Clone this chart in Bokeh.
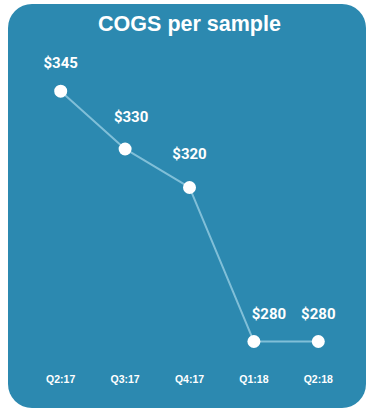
from bokeh.plotting import figure
from bokeh.models import FactorRange, Range1d, ColumnDataSource
from bokeh.core.properties import value
from bokeh.embed import file_html
from bokeh.resources import INLINE

quarters = ["Q2:17", "Q3:17", "Q4:17", "Q1:18", "Q2:18"]
cogs = [345, 330, 320, 280, 280]
labels = ["$345", "$330", "$320", "$280", "$280"]
label_dx = [0, 6, 0, 15, 0]
label_dy = [-28, -32, -33, -28, -28]

BG = "#2c89b0"

src = ColumnDataSource(dict(q=quarters, v=cogs, t=labels, dx=label_dx, dy=label_dy))

p = figure(width=358, height=404, x_range=FactorRange(*quarters),
           y_range=Range1d(274.03, 358.17),
           output_backend="svg", toolbar_location=None,
           min_border_left=20, min_border_right=16, min_border_top=0, min_border_bottom=44,
           background_fill_color=None, border_fill_color=None, outline_line_color=None,
           title="COGS per sample",
           styles={"border-radius": "24px", "overflow": "hidden",
                   "background-color": BG, "margin-left": "8px", "margin-top": "4px"})

p.title.align = "center"
p.title.text_color = "white"
p.title.text_font = "Liberation Sans"
p.title.text_font_size = "21.5px"
p.title.text_font_style = "bold"
p.title.standoff = 10

p.xgrid.visible = False
p.ygrid.visible = False
p.yaxis.visible = False
p.xaxis.axis_line_color = None
p.xaxis.major_tick_line_color = None
p.xaxis.minor_tick_line_color = None
p.xaxis.major_tick_out = 0
p.xaxis.major_tick_in = 0
p.xaxis.major_label_standoff = 8
p.xaxis.major_label_text_color = "white"
p.xaxis.major_label_text_font = "Liberation Sans"
p.xaxis.major_label_text_font_size = "10.5px"
p.xaxis.major_label_text_font_style = "bold"
p.x_range.range_padding = 0

p.line("q", "v", source=src, line_color="#80bfd8", line_width=2)
p.scatter("q", "v", source=src, size=13, fill_color="white", line_color=None)
p.text("q", "v", text="t", source=src, x_offset="dx", y_offset="dy",
       text_align="center", text_baseline="middle", text_color="white",
       text_font=value("Roboto"), text_font_style="bold", text_font_size="15px")

open("out.html", "w").write(file_html(p, INLINE))
